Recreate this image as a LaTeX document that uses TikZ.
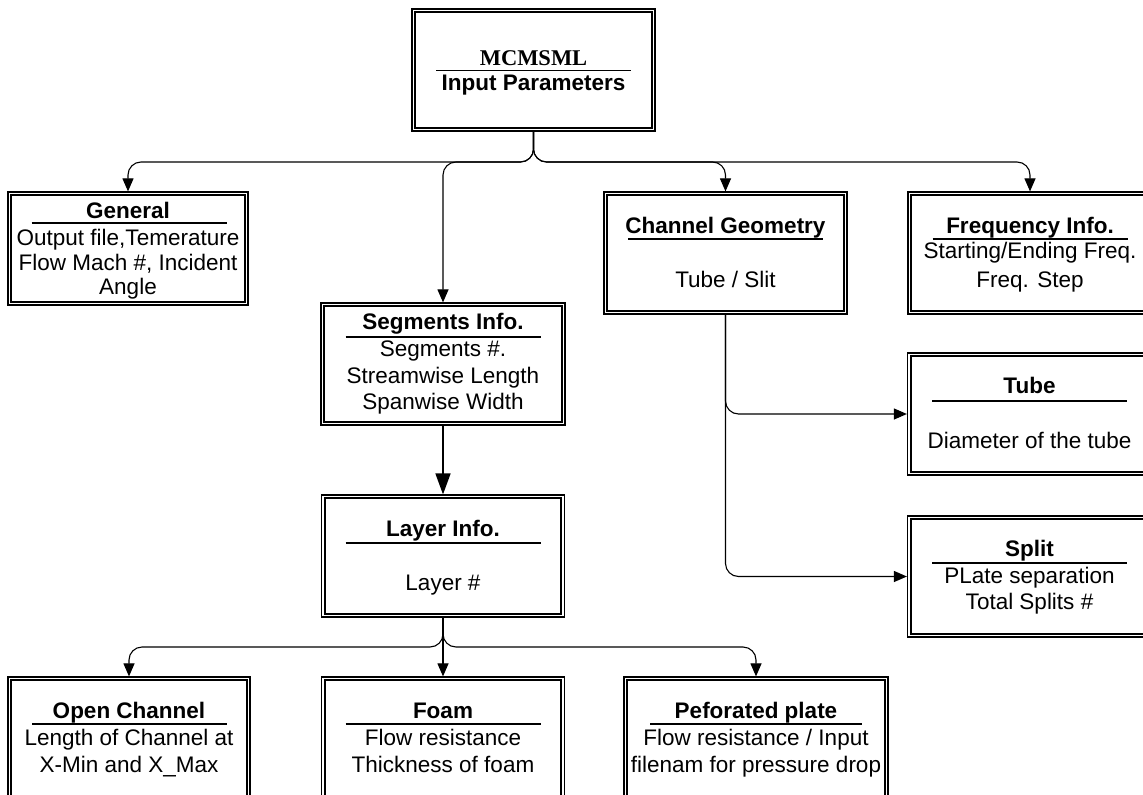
\documentclass[tikz,border=0pt]{standalone}
\usepackage{fontspec}
\setmainfont{Liberation Sans}
\newfontfamily\tmsfont{Liberation Serif}
\usetikzlibrary{arrows.meta}
\tikzset{
  obox/.style={draw, line width=1.2pt, inner sep=0pt, fill=none},
  ibox/.style={draw, line width=2pt},
  hline/.style={draw, line width=1.3pt},
  txt/.style={inner sep=0pt, anchor=base, font=\fontsize{22.5}{26}\selectfont},
  ttl/.style={txt, font=\fontsize{22.5}{26}\selectfont\bfseries},
  conn/.style={draw, line width=1.1pt, rounded corners=13pt, -{Triangle[length=13pt,width=11pt]}},
  bigconn/.style={draw, line width=1.6pt, -{Triangle[length=21pt,width=15pt]}}
}
\newcommand\dbox[5]{%
  \node[obox, minimum width=#4, minimum height=#5] (#1) at (#2,#3) {};
  \draw[ibox] ([shift={(4,4)}]#1.north west) rectangle ([shift={(-4,-4)}]#1.south east);}
\newcommand\tline[4]{\node[txt] (#1) at (#2,#3) {#4};}
\newcommand\tbold[4]{\node[ttl] (#1) at (#2,#3) {#4};}
\newcommand\uline[3]{\draw[hline] (#1-#3/2,#2) -- (#1+#3/2,#2);}
\begin{document}
\begin{tikzpicture}[x=1pt,y=-1pt]
\useasboundingbox (0,0) rectangle (1143,795);
\clip (0,0) rectangle (1143,795);
\fill[white] (0,0) rectangle (1143,795);

% Top box
\dbox{top}{533.5}{70}{243}{122}
\node[inner sep=0pt, anchor=base, font=\fontsize{22.5}{26}\selectfont\tmsfont\bfseries] (topA) at (533.5,65) {MCMSML};
\uline{533.5}{70.5}{195}
\tbold{topB}{533.5}{90}{Input Parameters}

% General
\dbox{gen}{128}{248.5}{240}{113}
\tbold{genA}{128}{218}{General}
\uline{129}{223}{195}
\tline{genB}{128}{245}{Output file,Temerature}
\tline{genC}{128}{270}{Flow Mach \#, Incident}
\tline{genD}{128}{294}{Angle}

% Channel Geometry
\dbox{cg}{725.5}{253}{243}{122}
\tbold{cgA}{725.5}{233}{Channel Geometry}
\uline{725.5}{239}{195}
\tline{cgB}{725.5}{287}{Tube / Slit}

% Frequency
\dbox{freq}{1030}{253}{244}{122}
\tbold{frA}{1030}{233}{Frequency Info.}
\uline{1030}{239}{195}
\tline{frB}{1030}{258}{Starting/Ending Freq.}
\tline{frC}{1030}{287}{Freq. Step}

% Segments
\dbox{seg}{443}{364}{244}{122}
\tbold{sgA}{443}{329}{Segments Info.}
\uline{443}{337}{195}
\tline{sgB}{443}{356}{Segments \#.}
\tline{sgC}{443}{383}{Streamwise Length}
\tline{sgD}{443}{409}{Spanwise Width}

% Layer
\dbox{lay}{443}{556}{243}{122}
\tbold{lyA}{443}{536}{Layer Info.}
\uline{443}{543}{195}
\tline{lyB}{443}{590}{Layer \#}

% Tube
\dbox{tube}{1029.5}{414}{244}{122}
\tbold{tbA}{1029.5}{393}{Tube}
\uline{1029.5}{401}{195}
\tline{tbB}{1029.5}{448}{Diameter of the tube}

% Split
\dbox{split}{1029.5}{576.5}{244}{121}
\tbold{spA}{1029.5}{556}{Split}
\uline{1029.5}{563}{195}
\tline{spB}{1029.5}{583}{PLate separation}
\tline{spC}{1029.5}{609}{Total Splits \#}

% Open channel
\dbox{oc}{129}{738}{242}{122}
\tbold{ocA}{129}{718}{Open Channel}
\uline{129.5}{724}{195}
\tline{ocB}{129}{745}{Length of Channel at}
\tline{ocC}{129}{772}{X-Min and X\_Max}

% Foam
\dbox{foam}{443}{738}{243}{122}
\tbold{fmA}{443}{718}{Foam}
\uline{443}{724}{195}
\tline{fmB}{443}{745}{Flow resistance}
\tline{fmC}{443}{772}{Thickness of foam}

% Peforated plate
\dbox{pef}{756}{738}{264}{122}
\tbold{pfA}{756}{718}{Peforated plate}
\uline{756}{724}{212}
\tline{pfB}{756}{745}{Flow resistance / Input}
\tline{pfC}{756}{772}{filenam for pressure drop}

% Connectors from top
\draw[conn] (top.south) -- (533.5,162) -| (gen.north);
\draw[conn] (top.south) -- (533.5,162) -| (seg.north);
\draw[conn] (top.south) -- (533.5,162) -| (cg.north);
\draw[conn] (top.south) -- (533.5,162) -| (freq.north);

% Channel geometry to tube/split
\draw[conn] (cg.south) |- (tube.west);
\draw[conn] (cg.south) |- (split.west);

% Segments to layer
\draw[bigconn] (seg.south) -- (lay.north);

% Layer to bottom
\draw[conn] (lay.south) -- (443,647) -| (oc.north);
\draw[conn] (lay.south) -- (foam.north);
\draw[conn] (lay.south) -- (443,647) -| (pef.north);
\end{tikzpicture}
\end{document}
